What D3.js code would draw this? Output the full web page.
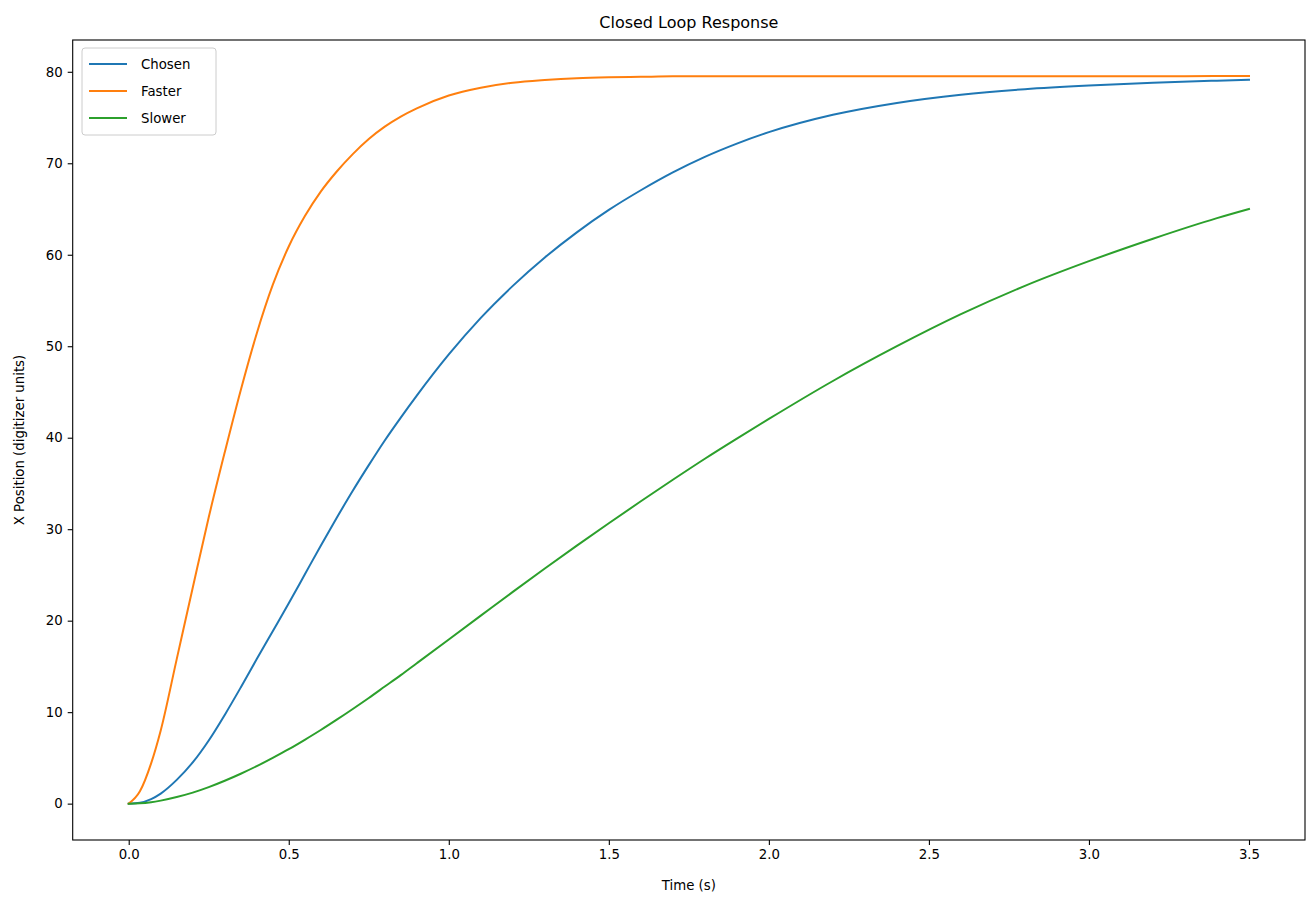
<!DOCTYPE html>
<html>
<head>
<meta charset="utf-8">
<script src="https://cdn.jsdelivr.net/npm/d3@7/dist/d3.min.js"></script>
<style>
  html, body { margin: 0; padding: 0; background: #fff; }
  svg { display: block; font-family: "DejaVu Sans", sans-serif; }
</style>
</head>
<body>
<svg id="chart" width="1312" height="899"></svg>
<script>
// ---- data ----
const time = [0, 0.035, 0.07, 0.1, 0.15, 0.2, 0.25, 0.3, 0.35, 0.4, 0.45, 0.5, 0.55, 0.6, 0.65, 0.7, 0.75, 0.8, 0.85, 0.9,
  1.0, 1.1, 1.2, 1.3, 1.4, 1.5, 1.6, 1.7, 1.8, 1.9, 2.0, 2.2, 2.4, 2.6, 2.8, 3.0, 3.2, 3.4, 3.5];
const chosen = [0, 0.1, 0.5, 1.1, 2.6, 4.5, 6.9, 9.7, 12.7, 15.8, 18.85, 21.9, 25.05, 28.2, 31.25, 34.2, 37.0, 39.7, 42.2, 44.6,
  49.1, 53.1, 56.6, 59.7, 62.45, 64.9, 67.05, 69.0, 70.7, 72.15, 73.4, 75.3, 76.6, 77.5, 78.1, 78.5, 78.8, 79.03, 79.13];
const faster = [0, 1.35, 4.4, 8.0, 15.8, 23.6, 31.3, 38.4, 45.2, 51.4, 56.7, 60.9, 64.2, 66.9, 69.1, 71.0, 72.65, 74.0, 75.1, 76.0,
  77.4, 78.25, 78.8, 79.1, 79.3, 79.4, 79.45, 79.5, 79.5, 79.5, 79.5, 79.5, 79.5, 79.5, 79.5, 79.5, 79.5, 79.55, 79.55];
const slower = [0, 0.03, 0.15, 0.33, 0.72, 1.2, 1.8, 2.5, 3.27, 4.1, 5.0, 5.95, 6.98, 8.05, 9.18, 10.35, 11.55, 12.8, 14.05, 15.35,
  17.95, 20.55, 23.15, 25.7, 28.2, 30.65, 33.05, 35.4, 37.7, 39.9, 42.05, 46.2, 50.0, 53.5, 56.6, 59.3, 61.75, 64.0, 65.0];
const seriesNames = ["Chosen", "Faster", "Slower"];
const seriesColors = ["#1f77b4", "#ff7f0e", "#2ca02c"];
const xTicks = [0.0, 0.5, 1.0, 1.5, 2.0, 2.5, 3.0, 3.5];
const yTicks = [0, 10, 20, 30, 40, 50, 60, 70, 80];
const titleText = "Closed Loop Response";
const xLabel = "Time (s)";
const yLabel = "X Position (digitizer units)";

// ---- layout ----
const svg = d3.select("#chart");
const L = 72.7, R = 1305, T = 40, B = 840;
const x = d3.scaleLinear().domain([-0.175, 3.675]).range([L, R]);
const y = d3.scaleLinear().domain([-3.975, 83.475]).range([B, T]);

const seriesValues = [chosen, faster, slower];
const line = d3.line()
  .x(d => x(d[0]))
  .y(d => y(d[1]))
  .curve(d3.curveMonotoneX);

const plot = svg.append("g");
seriesValues.forEach((vals, i) => {
  const pts = time.map((t, k) => [t, vals[k]]);
  plot.append("path")
    .datum(pts)
    .attr("fill", "none")
    .attr("stroke", seriesColors[i])
    .attr("stroke-width", 2)
    .attr("stroke-linejoin", "round")
    .attr("stroke-linecap", "square")
    .attr("d", line);
});

// axes
const xAxis = d3.axisBottom(x).tickValues(xTicks).tickFormat(d3.format(".1f")).tickSize(5).tickPadding(5);
const yAxis = d3.axisLeft(y).tickValues(yTicks).tickFormat(d3.format("d")).tickSize(5).tickPadding(5);

const gx = svg.append("g").attr("transform", `translate(0,${B})`).call(xAxis);
const gy = svg.append("g").attr("transform", `translate(${L},0)`).call(yAxis);
[gx, gy].forEach(g => {
  g.select(".domain").remove();
  g.selectAll(".tick line").attr("stroke", "#000").attr("stroke-width", 1.1);
  g.selectAll(".tick text").attr("fill", "#000").style("font-size", "13.3px").style("font-family", "DejaVu Sans");
});

// frame
svg.append("rect")
  .attr("x", L).attr("y", T)
  .attr("width", R - L).attr("height", B - T)
  .attr("fill", "none").attr("stroke", "#000").attr("stroke-width", 1.1);

// title and labels
svg.append("text")
  .attr("x", (L + R) / 2).attr("y", 28)
  .attr("text-anchor", "middle")
  .style("font-size", "16px")
  .text(titleText);
svg.append("text")
  .attr("x", (L + R) / 2).attr("y", 890)
  .attr("text-anchor", "middle")
  .style("font-size", "13.3px")
  .text(xLabel);
svg.append("text")
  .attr("transform", `translate(24,${(T + B) / 2}) rotate(-90)`)
  .attr("text-anchor", "middle")
  .style("font-size", "13.3px")
  .text(yLabel);

// legend
const lg = svg.append("g").attr("transform", `translate(82,48)`);
lg.append("rect")
  .attr("x", 0).attr("y", 0).attr("width", 134).attr("height", 87)
  .attr("rx", 3).attr("ry", 3)
  .attr("fill", "#fff").attr("fill-opacity", 0.8)
  .attr("stroke", "#cccccc").attr("stroke-width", 1);
seriesNames.forEach((name, i) => {
  const cy = 16 + i * 27;
  lg.append("line")
    .attr("x1", 7).attr("x2", 45).attr("y1", cy).attr("y2", cy)
    .attr("stroke", seriesColors[i]).attr("stroke-width", 2);
  lg.append("text")
    .attr("x", 59).attr("y", cy + 5)
    .style("font-size", "13.3px")
    .text(name);
});
</script>
</body>
</html>
